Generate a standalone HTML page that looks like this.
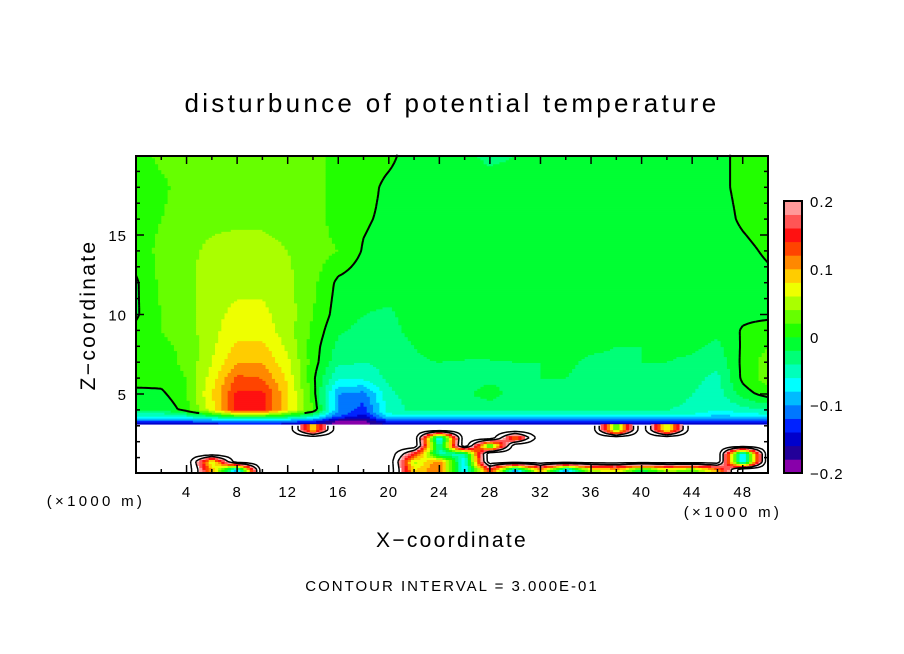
<!DOCTYPE html>
<html><head><meta charset="utf-8"><style>
html,body{margin:0;padding:0;background:#fff;}
svg{display:block;font-family:"Liberation Sans",sans-serif;}
</style></head><body>
<svg id="chart" width="904" height="654" viewBox="0 0 904 654">
<rect x="0" y="0" width="904" height="654" fill="#fff"/>
<text x="452" y="112" font-size="26" letter-spacing="3.3" text-anchor="middle">disturbunce of potential temperature</text>
<g id="field"></g>
<path id="contour0" fill="none" stroke="#000" stroke-width="2"/>
<path id="contourLow" fill="none" stroke="#000" stroke-width="1.5"/>
<rect x="136" y="156" width="632" height="317" fill="none" stroke="#000" stroke-width="2"/>
<g id="ticks"></g>
<g id="xlabels" font-size="15" letter-spacing="1" text-anchor="middle"></g>
<g id="ylabels" font-size="15" letter-spacing="1" text-anchor="end"></g>
<text x="96" y="506" font-size="15" letter-spacing="3.3" text-anchor="middle">(×1000 m)</text>
<text x="733" y="517" font-size="15" letter-spacing="3.3" text-anchor="middle">(×1000 m)</text>
<text x="452" y="547" font-size="21" letter-spacing="2.3" text-anchor="middle">X−coordinate</text>
<text transform="translate(95,315) rotate(-90)" font-size="21" letter-spacing="2.3" text-anchor="middle">Z−coordinate</text>
<text x="452" y="591" font-size="15" letter-spacing="2" text-anchor="middle">CONTOUR INTERVAL = 3.000E-01</text>
<g id="colorbar"></g>
</svg>
<script>
const colors = ['#8800aa','#220099','#0000cc','#0022ff','#0077ff','#00bbff','#00ffff','#00ffbb','#00ff77','#00ff33','#22ff00','#66ff00','#aaff00','#eeff00','#ffcc00','#ff8800','#ff4400','#ff1111','#ff5555','#ff9999'];
const xTicks = [4,8,12,16,20,24,28,32,36,40,44,48];
const yTicks = [5,10,15];
const cbTicks = [0.2,0.1,0,-0.1,-0.2];
const cbLabels = ['0.2','0.1','0','−0.1','−0.2'];
const xCols = [0,2,4,6,8,10,12,14,16,18,20,22,24,26,28,30,32,34,36,38,40,42,44,46,48,50];
const zRows = [3.0,3.3,3.6,4,5,6,7,8,9,10,12,14,16,18,20];
const field = [
[-.18,-.18,-.18,-.18,-.17,-.17,-.18,-.18,-.19,-.19,-.18,-.18,-.18,-.18,-.18,-.18,-.18,-.18,-.18,-.18,-.18,-.18,-.18,-.18,-.18,-.18],
[-.12,-.12,-.12,-.11,-.1,-.1,-.11,-.13,-.19,-.19,-.13,-.12,-.12,-.12,-.12,-.12,-.12,-.12,-.12,-.12,-.12,-.12,-.12,-.13,-.13,-.12],
[-.06,-.06,-.05,-.03,.0,.0,-.02,-.05,-.12,-.15,-.07,-.07,-.07,-.07,-.07,-.07,-.07,-.07,-.07,-.07,-.07,-.07,-.07,-.09,-.08,-.07],
[-.02,-.02,.01,.07,.15,.15,.08,.02,-.1,-.13,-.05,-.035,-.035,-.035,-.035,-.035,-.035,-.035,-.04,-.04,-.04,-.04,-.045,-.06,-.05,-.04],
[-.01,-.005,.02,.08,.145,.145,.085,.01,-.1,-.11,-.045,-.03,-.03,-.025,-.01,-.03,-.03,-.03,-.03,-.03,-.025,-.03,-.04,-.05,-.01,.01],
[.015,.01,.02,.07,.125,.12,.075,.005,-.06,-.055,-.035,-.025,-.025,-.025,-.025,-.025,-.02,-.02,-.03,-.03,-.025,-.03,-.035,-.045,.005,.03],
[.02,.01,.025,.06,.1,.1,.065,.01,-.035,-.04,-.035,-.022,-.02,-.022,-.022,-.02,-.02,-.015,-.025,-.025,-.02,-.02,-.025,-.035,.005,.03],
[.01,.015,.025,.055,.085,.085,.055,.01,-.025,-.03,-.03,-.02,-.015,-.01,-.01,-.012,-.015,-.012,-.015,-.02,-.02,-.015,-.015,-.025,.003,.02],
[.005,.02,.03,.055,.07,.07,.05,.015,-.018,-.025,-.025,-.015,-.01,-.01,-.01,-.01,-.01,-.01,-.01,-.01,-.01,-.01,-.01,-.015,.002,.01],
[-.003,.02,.03,.055,.065,.065,.05,.02,-.01,-.02,-.022,-.015,-.01,-.01,-.01,-.01,-.01,-.01,-.01,-.01,-.01,-.01,-.01,-.01,-.005,-.005],
[-.003,.025,.035,.05,.055,.055,.045,.025,-.005,-.012,-.015,-.01,-.01,-.01,-.01,-.01,-.01,-.01,-.01,-.01,-.01,-.01,-.01,-.01,-.01,-.005],
[.01,.025,.035,.045,.05,.05,.04,.03,.02,-.002,-.01,-.01,-.01,-.01,-.01,-.01,-.01,-.01,-.01,-.01,-.01,-.01,-.01,-.01,-.005,.003],
[.01,.02,.03,.035,.035,.035,.03,.03,.01,.003,-.005,-.01,-.01,-.01,-.01,-.01,-.01,-.01,-.01,-.01,-.01,-.01,-.01,-.008,.003,.01],
[.01,.015,.03,.03,.03,.03,.03,.03,.01,.008,-.005,-.01,-.01,-.01,-.01,-.01,-.01,-.01,-.01,-.01,-.01,-.01,-.01,-.005,.005,.01],
[.01,.025,.03,.03,.03,.03,.03,.03,.01,.01,.005,-.01,-.01,-.015,-.025,-.02,-.01,-.01,-.01,-.01,-.01,-.01,-.01,-.005,.005,.01]
];
const zRowsLow = [0.25,0.75,1.25,1.75,2.25,2.75];
const N = null;
const fieldLow = [
[N,N,N,.1,-.1,N,N,N,N,N,N,.08,.12,-.08,.15,-.1,.1,-.1,.05,.08,-.02,.05,.02,.1,N,N],
[N,N,N,.05,N,N,N,N,N,N,N,.05,.12,-.08,N,N,N,N,N,N,N,N,N,N,-.1,N],
[N,N,N,N,N,N,N,N,N,N,N,.15,-.05,-.05,N,N,N,N,N,N,N,N,N,N,-.1,N],
[N,N,N,N,N,N,N,N,N,N,N,N,-.05,N,-.02,N,N,N,N,N,N,N,N,N,N,N],
[N,N,N,N,N,N,N,N,N,N,N,N,-.1,N,N,.1,N,N,N,N,N,N,N,N,N,N],
[N,N,N,N,N,N,N,.08,N,N,N,N,N,N,N,N,N,N,N,.02,N,.05,N,N,N,N]
];

const NS = 'http://www.w3.org/2000/svg';
const xs = x => 136 + x * 12.64;
const zs = z => 473.5 - z * 15.9;

function bil(rows, grid, x, z, nullVal) {
  let i = Math.min(Math.floor(x / 2), xCols.length - 2); if (i < 0) i = 0;
  const tx = Math.max(0, Math.min(1, (x - xCols[i]) / (xCols[i+1] - xCols[i])));
  let j = 0;
  while (j < rows.length - 2 && z > rows[j+1]) j++;
  const tz = Math.max(0, Math.min(1, (z - rows[j]) / (rows[j+1] - rows[j])));
  const g = (a, b) => { const v = grid[a][b]; return v === null ? nullVal : v; };
  const a = g(j,i)*(1-tx) + g(j,i+1)*tx;
  const b = g(j+1,i)*(1-tx) + g(j+1,i+1)*tx;
  return a*(1-tz) + b*tz;
}
function colorOf(v, clampIt) {
  if (!clampIt && (v > 0.2 || v < -0.2)) return '#ffffff';
  let k = Math.floor((v + 0.2) / 0.02);
  k = Math.max(0, Math.min(19, k));
  return colors[k];
}

const fg = document.getElementById('field');
const dx = 0.25, dz = 0.125;
const nx = Math.round(50 / dx);
function drawRow(z0, z1, fn, clampIt) {
  const zc = (z0 + z1) / 2;
  let runStart = 0, runColor = null;
  for (let c = 0; c <= nx; c++) {
    const col = c < nx ? colorOf(fn(c * dx + dx / 2, zc), clampIt) : null;
    if (col !== runColor) {
      if (runColor !== null && runColor !== '#ffffff') {
        const r = document.createElementNS(NS, 'rect');
        r.setAttribute('x', xs(runStart * dx).toFixed(2));
        r.setAttribute('y', zs(z1).toFixed(2));
        r.setAttribute('width', (xs(c * dx) - xs(runStart * dx) + 0.4).toFixed(2));
        r.setAttribute('height', (zs(z0) - zs(z1) + 0.4).toFixed(2));
        r.setAttribute('fill', runColor);
        
        
        fg.appendChild(r);
      }
      runColor = col; runStart = c;
    }
  }
}
const zTop = 19.97;
for (let z = 3.1; z < zTop; z += dz) {
  drawRow(z, Math.min(z + dz, zTop), (x, zz) => bil(zRows, field, x, zz, 0), true);
}
for (let z = 0; z < 3.1 - 1e-6; z += dz) {
  drawRow(z, Math.min(z + dz, 3.1), (x, zz) => bil(zRowsLow, fieldLow, x, zz, 0.3), false);
}

function march(f, level, x0, x1, z0, z1, cdx, cdz) {
  let d = '';
  for (let z = z0; z < z1 - 1e-6; z += cdz) {
    for (let x = x0; x < x1 - 1e-6; x += cdx) {
      const p = [[x, z], [x + cdx, z], [x + cdx, z + cdz], [x, z + cdz]];
      const v = p.map(q => f(q[0], q[1]) - level);
      const pts = [];
      for (let e = 0; e < 4; e++) {
        const a = v[e], b = v[(e + 1) % 4];
        if ((a < 0) !== (b < 0)) {
          const t = a / (a - b);
          const P = p[e], Q = p[(e + 1) % 4];
          pts.push([P[0] + (Q[0] - P[0]) * t, P[1] + (Q[1] - P[1]) * t]);
        }
      }
      for (let k = 0; k + 1 < pts.length; k += 2) {
        d += 'M' + xs(pts[k][0]).toFixed(1) + ' ' + zs(pts[k][1]).toFixed(1) +
             'L' + xs(pts[k+1][0]).toFixed(1) + ' ' + zs(pts[k+1][1]).toFixed(1);
      }
    }
  }
  return d;
}
document.getElementById('contour0').setAttribute('d',
  march((x, z) => bil(zRows, field, x, z, 0), 0, 0, 50, 3.8, zTop, 0.25, 0.125));
document.getElementById('contourLow').setAttribute('d',
  march((x, z) => bil(zRowsLow, fieldLow, x, z, 0.3), 0.21, 0, 50, 0, 3.0, 0.25, 0.125) +
  march((x, z) => bil(zRowsLow, fieldLow, x, z, 0.3), 0.26, 0, 50, 0, 3.0, 0.25, 0.125));

// ticks
const tg = document.getElementById('ticks');
function line(x1, y1, x2, y2, name) {
  const l = document.createElementNS(NS, 'line');
  l.setAttribute('x1', x1); l.setAttribute('y1', y1);
  l.setAttribute('x2', x2); l.setAttribute('y2', y2);
  l.setAttribute('stroke', '#000'); l.setAttribute('stroke-width', '1.5');
  
  
  tg.appendChild(l);
}
for (let x = 2; x < 50; x += 2) {
  const len = x % 4 === 0 ? 8 : 4;
  line(xs(x), 473, xs(x), 473 - len, 'x-tick');
  line(xs(x), 156, xs(x), 156 + len, 'x-tick');
}
for (let z = 1; z < 20; z++) {
  const len = z % 5 === 0 ? 8 : 4;
  line(136, zs(z), 136 + len, zs(z), 'y-tick');
  line(768, zs(z), 768 - len, zs(z), 'y-tick');
}
const xl = document.getElementById('xlabels');
xTicks.forEach(v => {
  const t = document.createElementNS(NS, 'text');
  t.setAttribute('x', xs(v)); t.setAttribute('y', 497);
  t.textContent = v;
  
  
  xl.appendChild(t);
});
const yl = document.getElementById('ylabels');
yTicks.forEach(v => {
  const t = document.createElementNS(NS, 'text');
  t.setAttribute('x', 127); t.setAttribute('y', zs(v) + 6);
  t.textContent = v;
  
  
  yl.appendChild(t);
});

// colorbar
const cb = document.getElementById('colorbar');
const cbY = v => 473 - (v + 0.2) / 0.4 * 272;
colors.forEach((c, k) => {
  const r = document.createElementNS(NS, 'rect');
  const v0 = -0.2 + k * 0.02;
  r.setAttribute('x', 784); r.setAttribute('y', cbY(v0 + 0.02));
  r.setAttribute('width', 18); r.setAttribute('height', cbY(v0) - cbY(v0 + 0.02) + 0.3);
  r.setAttribute('fill', c);
  
  
  cb.appendChild(r);
});
const cbf = document.createElementNS(NS, 'rect');
cbf.setAttribute('x', 784); cbf.setAttribute('y', 201); cbf.setAttribute('width', 18); cbf.setAttribute('height', 272);
cbf.setAttribute('fill', 'none'); cbf.setAttribute('stroke', '#000'); cbf.setAttribute('stroke-width', '2');


cb.appendChild(cbf);
cbTicks.forEach((v, k) => {
  const t = document.createElementNS(NS, 'text');
  t.setAttribute('x', 810); t.setAttribute('y', cbY(v) + 6);
  t.setAttribute('font-size', '15');
  t.setAttribute('letter-spacing', '1');
  t.textContent = cbLabels[k];
  
  
  cb.appendChild(t);
});
</script>
</body></html>
